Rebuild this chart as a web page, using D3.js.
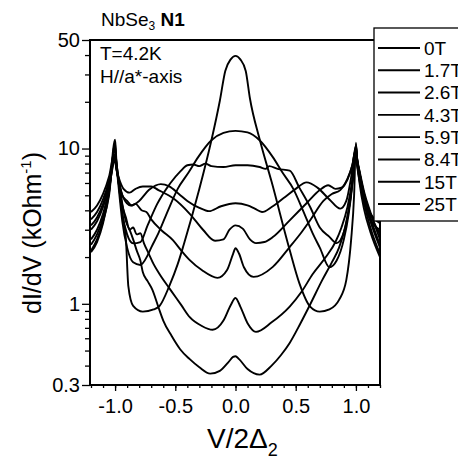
<!DOCTYPE html>
<html>
<head>
<meta charset="utf-8">
<script src="https://cdn.jsdelivr.net/npm/d3@7"></script>
<style>
  html, body { margin: 0; padding: 0; background: #fff; }
  svg { display: block; font-family: "Liberation Sans", Arial, Helvetica, sans-serif; }
</style>
</head>
<body>
<div id="chart"></div>
<script>
// ── data: [V/2Δ2, dI/dV] ──
const fields = ["0T", "1.7T", "2.6T", "4.3T", "5.9T", "8.4T", "15T", "25T"];

const curve0T = [[-1.2,3.9],[-1.15,4.3],[-1.1,5.1],[-1.05,6.6],[-1.0,9.8],[-0.99,8.2],[-0.97,6.4],[-0.94,4.4],[-0.91,3.4],[-0.88,3.0],[-0.85,2.6],[-0.82,2.2],[-0.79,1.9],[-0.77,1.6],[-0.73,1.4],[-0.69,1.23],[-0.64,0.95],[-0.6,0.78],[-0.53,0.62],[-0.46,0.51],[-0.38,0.44],[-0.3,0.39],[-0.21,0.355],[-0.13,0.37],[-0.06,0.42],[-0.02,0.455],[0,0.46],[0.03,0.44],[0.1,0.38],[0.2,0.35],[0.3,0.4],[0.38,0.47],[0.45,0.56],[0.54,0.75],[0.62,0.99],[0.72,1.42],[0.8,1.85],[0.86,2.3],[0.91,3.1],[0.95,4.5],[0.975,6.5],[1.0,9.4],[1.01,8.0],[1.03,6.4],[1.07,4.6],[1.12,3.8],[1.2,3.3]];
const curve1p7T = [[-1.2,3.5],[-1.15,3.9],[-1.1,4.7],[-1.05,6.2],[-1.0,9.2],[-0.99,7.8],[-0.97,6.0],[-0.94,4.3],[-0.91,3.6],[-0.88,3.0],[-0.85,3.1],[-0.82,2.8],[-0.79,2.85],[-0.76,2.45],[-0.72,2.1],[-0.68,1.8],[-0.63,1.55],[-0.54,1.23],[-0.45,0.98],[-0.38,0.82],[-0.28,0.72],[-0.19,0.68],[-0.1,0.78],[-0.04,0.98],[0,1.09],[0.04,0.96],[0.1,0.75],[0.17,0.66],[0.3,0.76],[0.45,0.96],[0.55,1.2],[0.64,1.55],[0.75,2.0],[0.83,2.5],[0.88,3.1],[0.93,4.2],[0.97,6.2],[1.0,9.0],[1.01,7.7],[1.03,6.2],[1.07,4.5],[1.12,3.5],[1.2,3.0]];
const curve2p6T = [[-1.2,3.2],[-1.15,3.6],[-1.1,4.4],[-1.05,6.0],[-1.0,8.8],[-0.99,7.6],[-0.97,6.3],[-0.94,5.0],[-0.9,4.6],[-0.86,4.3],[-0.83,4.4],[-0.78,4.0],[-0.74,3.9],[-0.7,3.5],[-0.62,3.0],[-0.52,2.57],[-0.45,2.2],[-0.38,1.91],[-0.28,1.65],[-0.15,1.47],[-0.07,1.65],[-0.02,2.1],[0,2.28],[0.03,2.1],[0.07,1.72],[0.15,1.49],[0.31,1.73],[0.45,2.32],[0.55,2.9],[0.62,3.45],[0.73,4.6],[0.8,5.1],[0.87,5.4],[0.93,6.3],[0.97,7.8],[1.0,9.8],[1.01,8.4],[1.03,7.0],[1.07,5.0],[1.12,3.8],[1.2,2.8]];
const curve4p3T = [[-1.2,3.0],[-1.15,3.4],[-1.1,4.2],[-1.05,5.7],[-1.0,8.4],[-0.99,7.4],[-0.97,6.5],[-0.93,5.5],[-0.88,5.2],[-0.83,5.5],[-0.77,5.7],[-0.7,5.7],[-0.64,5.4],[-0.52,4.8],[-0.38,3.8],[-0.27,3.0],[-0.17,2.55],[-0.1,2.6],[-0.05,3.0],[0,3.2],[0.06,3.05],[0.12,2.6],[0.17,2.46],[0.24,2.5],[0.31,2.69],[0.45,3.45],[0.59,4.44],[0.7,5.4],[0.77,5.8],[0.83,5.5],[0.88,5.6],[0.93,6.4],[0.97,7.8],[1.0,10.0],[1.01,8.6],[1.03,7.2],[1.07,5.2],[1.12,3.9],[1.2,2.6]];
const curve5p9T = [[-1.2,2.6],[-1.15,3.0],[-1.1,3.8],[-1.05,5.5],[-1.0,9.0],[-0.99,7.6],[-0.97,6.2],[-0.93,4.8],[-0.87,4.3],[-0.8,4.6],[-0.72,5.4],[-0.62,5.9],[-0.55,5.7],[-0.47,5.1],[-0.4,4.6],[-0.3,4.15],[-0.22,3.95],[-0.12,4.25],[0,4.44],[0.1,4.3],[0.16,4.1],[0.22,3.9],[0.3,4.2],[0.4,4.8],[0.5,5.5],[0.59,6.05],[0.68,5.6],[0.78,4.7],[0.87,4.1],[0.92,4.6],[0.96,6.5],[1.0,10.4],[1.01,8.6],[1.03,7.0],[1.07,5.0],[1.12,3.6],[1.2,2.4]];
const curve8p4T = [[-1.2,2.4],[-1.15,2.8],[-1.1,3.6],[-1.05,5.3],[-1.0,10.2],[-0.99,8.2],[-0.97,6.0],[-0.94,3.8],[-0.9,2.8],[-0.85,2.45],[-0.79,2.5],[-0.73,3.2],[-0.65,4.4],[-0.54,6.0],[-0.46,7.1],[-0.4,7.8],[-0.35,7.9],[-0.3,7.7],[-0.25,8.0],[-0.2,7.7],[-0.1,7.6],[0,7.8],[0.1,7.8],[0.2,7.6],[0.25,7.4],[0.28,7.7],[0.35,7.4],[0.45,7.2],[0.53,5.6],[0.62,4.2],[0.7,3.1],[0.78,2.7],[0.84,2.46],[0.9,2.9],[0.94,4.0],[0.97,6.0],[1.0,10.6],[1.01,8.6],[1.03,7.0],[1.07,4.6],[1.12,3.4],[1.2,2.3]];
const curve15T = [[-1.2,2.2],[-1.15,2.6],[-1.1,3.4],[-1.05,5.0],[-1.0,10.8],[-0.99,8.2],[-0.97,5.6],[-0.94,3.4],[-0.9,2.3],[-0.85,1.85],[-0.79,1.78],[-0.73,2.05],[-0.7,2.3],[-0.64,2.85],[-0.56,4.0],[-0.48,5.5],[-0.39,7.0],[-0.31,8.8],[-0.2,11.3],[-0.1,12.6],[0,13.0],[0.1,12.7],[0.2,11.3],[0.31,8.8],[0.39,7.0],[0.48,5.5],[0.56,4.0],[0.64,2.85],[0.7,2.3],[0.78,1.72],[0.84,1.9],[0.9,2.6],[0.94,3.8],[0.97,5.8],[1.0,10.2],[1.01,8.4],[1.03,6.6],[1.07,4.4],[1.12,3.1],[1.2,2.1]];
const curve25T = [[-1.2,2.15],[-1.15,2.5],[-1.1,3.3],[-1.05,5.2],[-1.0,11.4],[-0.99,8.6],[-0.97,6.0],[-0.94,3.8],[-0.91,2.6],[-0.89,1.3],[-0.85,0.97],[-0.77,0.89],[-0.68,0.92],[-0.63,0.97],[-0.55,1.3],[-0.48,1.8],[-0.43,2.4],[-0.3,5.5],[-0.2,11.3],[-0.13,20.3],[-0.085,31.6],[-0.04,37.5],[0,39.5],[0.04,37.5],[0.085,31.6],[0.12,21],[0.2,11.5],[0.3,6.1],[0.45,2.22],[0.53,1.36],[0.62,0.96],[0.7,0.89],[0.78,0.92],[0.86,1.06],[0.92,1.42],[0.96,2.57],[0.985,5],[1.0,10.9],[1.01,8.4],[1.03,6.0],[1.07,4.0],[1.12,2.9],[1.2,2.0]];

const series = [curve0T, curve1p7T, curve2p6T, curve4p3T, curve5p9T, curve8p4T, curve15T, curve25T];

const xMajor = [-1.0, -0.5, 0.0, 0.5, 1.0];
const xMinor = d3.range(-12, 13).map((i) => i / 10);
const yMajor = [0.3, 1, 10, 50];
const yMajorLabels = ["0.3", "1", "10", "50"];
const yMinor = [0.4, 0.5, 0.6, 0.7, 0.8, 0.9, 2, 3, 4, 5, 6, 7, 8, 9, 20, 30, 40];

// ── layout ──
const W = 458, H = 459;
const plot = { left: 90, right: 380, top: 40, bottom: 385 };

const svg = d3.select("#chart").append("svg").attr("width", W).attr("height", H);

const x = d3.scaleLinear().domain([-1.2, 1.2]).range([plot.left + 1, plot.right]);
const y = d3.scaleLog().domain([0.3, 50]).range([plot.bottom, plot.top]);

svg.append("defs").append("clipPath").attr("id", "plot-clip")
  .append("rect")
  .attr("x", plot.left).attr("y", plot.top)
  .attr("width", plot.right - plot.left).attr("height", plot.bottom - plot.top);

// ── curves ──
const line = d3.line()
  .x((d) => x(d[0]))
  .y((d) => y(d[1]))
  .curve(d3.curveMonotoneX);

svg.append("g").attr("clip-path", "url(#plot-clip)")
  .selectAll("path")
  .data(series)
  .join("path")
  .attr("d", line)
  .attr("fill", "none")
  .attr("stroke", "#000")
  .attr("stroke-width", 1.9)
  .attr("stroke-linejoin", "round");

// ── axes ──
const styleAxis = (g) => {
  g.select(".domain").remove();
  g.selectAll("line").attr("stroke", "#000").attr("stroke-width", 1.3);
  g.selectAll("text").attr("fill", "#000").attr("font-size", 20).attr("font-family", null);
};

svg.append("g").attr("transform", `translate(0,${plot.bottom})`)
  .call(d3.axisBottom(x).tickValues(xMinor).tickSize(3).tickFormat(""))
  .call(styleAxis);
svg.append("g").attr("transform", `translate(0,${plot.bottom})`)
  .call(d3.axisBottom(x).tickValues(xMajor).tickSize(6).tickPadding(8).tickFormat((d) => d.toFixed(1)))
  .call(styleAxis);

svg.append("g").attr("transform", `translate(${plot.left},0)`)
  .call(d3.axisLeft(y).tickValues(yMinor).tickSize(5).tickFormat(""))
  .call(styleAxis);
svg.append("g").attr("transform", `translate(${plot.left},0)`)
  .call(d3.axisLeft(y).tickValues(yMajor).tickSize(8).tickPadding(2).tickFormat((d, i) => yMajorLabels[i]))
  .call(styleAxis);

// frame
const frame = svg.append("g").attr("stroke", "#000").attr("stroke-width", 2).attr("fill", "none");
frame.append("line").attr("x1", plot.left).attr("x2", plot.left).attr("y1", plot.top - 1).attr("y2", plot.bottom + 1);
frame.append("line").attr("x1", plot.left - 1).attr("x2", plot.right + 1).attr("y1", plot.bottom).attr("y2", plot.bottom);
frame.append("line").attr("x1", plot.left - 1).attr("x2", plot.right).attr("y1", plot.top).attr("y2", plot.top);
frame.append("line").attr("x1", plot.right).attr("x2", plot.right).attr("y1", plot.top).attr("y2", plot.bottom + 1);

// ── axis titles ──
const yTitle = svg.append("text")
  .attr("transform", "translate(41,233) rotate(-90)")
  .attr("text-anchor", "middle")
  .attr("font-size", 25);
yTitle.append("tspan").text("dI/dV (kOhm");
yTitle.append("tspan").attr("font-size", 15).attr("dy", -10).text("-1");
yTitle.append("tspan").attr("dy", 10).text(")");

const xTitle = svg.append("text")
  .attr("x", 207).attr("y", 448)
  .attr("font-size", 28);
xTitle.append("tspan").text("V/2Δ");
xTitle.append("tspan").attr("font-size", 18).attr("dy", 8).text("2");

// ── annotations ──
const title = svg.append("text").attr("x", 101).attr("y", 26).attr("font-size", 19);
title.append("tspan").text("NbSe");
title.append("tspan").attr("font-size", 12).attr("dy", 4).text("3");
title.append("tspan").attr("dy", -4).text(" ");
title.append("tspan").attr("font-weight", "bold").text("N1");

svg.append("text").attr("x", 100).attr("y", 60).attr("font-size", 19).text("T=4.2K");
svg.append("text").attr("x", 100).attr("y", 83).attr("font-size", 19).text("H//a*-axis");

// ── legend ──
const legend = svg.append("g");
legend.append("rect")
  .attr("x", 374).attr("y", 28).attr("width", 100).attr("height", 193)
  .attr("fill", "#fff").attr("stroke", "#000").attr("stroke-width", 1.3);

const rowY = d3.scalePoint().domain(fields).range([48, 204]);
const rows = legend.selectAll("g.row").data(fields).join("g")
  .attr("class", "row")
  .attr("transform", (d) => `translate(0,${rowY(d)})`);
rows.append("line")
  .attr("x1", 378).attr("x2", 420)
  .attr("stroke", "#000").attr("stroke-width", 1.9);
rows.append("text")
  .attr("x", 424).attr("dy", "0.36em")
  .attr("font-size", 19)
  .text((d) => d);
</script>
</body>
</html>
